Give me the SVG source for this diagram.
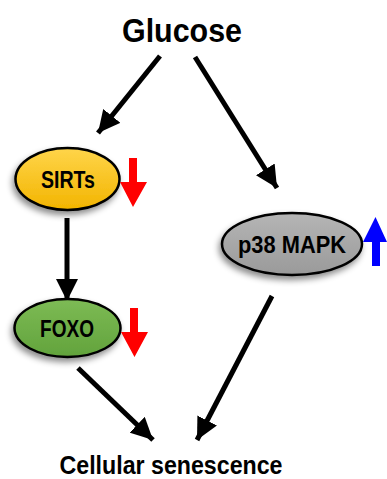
<svg xmlns="http://www.w3.org/2000/svg" width="387" height="479" viewBox="0 0 387 479">
<style>
.t{font-family:"Liberation Sans","Open Sans",sans-serif;font-weight:bold;fill:#000;text-anchor:middle}
.e{stroke:#000;stroke-width:2.5}
.c{stroke:#000;stroke-width:5;fill:none;marker-end:url(#ah)}
</style>
<defs>
<marker id="ah" markerUnits="userSpaceOnUse" markerWidth="22" markerHeight="22" refX="20" refY="10" orient="auto" viewBox="0 0 20 20">
<path d="M0,0 L20,10 L0,20 Z" fill="#000"/>
</marker>
<linearGradient id="gy" x1="0" y1="0" x2="0" y2="1"><stop offset="0" stop-color="#FFD54A"/><stop offset="1" stop-color="#F2B400"/></linearGradient>
<linearGradient id="gg" x1="0" y1="0" x2="0" y2="1"><stop offset="0" stop-color="#7DBB55"/><stop offset="1" stop-color="#62A33C"/></linearGradient>
<linearGradient id="gr" x1="0" y1="0" x2="0" y2="1"><stop offset="0" stop-color="#B5B5B5"/><stop offset="1" stop-color="#9A9A9A"/></linearGradient>
<filter id="sh" x="-20%" y="-20%" width="140%" height="150%"><feDropShadow dx="-2" dy="4" stdDeviation="3" flood-color="#000" flood-opacity="0.45"/></filter>
</defs>
<text class="t" x="182" y="42" font-size="33" textLength="120" lengthAdjust="spacingAndGlyphs">Glucose</text>
<g id="connectors">
<line class="c" x1="160" y1="56" x2="98" y2="133"/>
<line class="c" x1="195" y1="57" x2="277" y2="188"/>
<line class="c" x1="67" y1="218" x2="67" y2="301"/>
<line class="c" x1="78" y1="368" x2="153" y2="440"/>
<line class="c" x1="272" y1="296" x2="197" y2="440"/>
</g>
<g id="sirts">
<ellipse class="e" cx="67.5" cy="179" rx="52" ry="31" fill="url(#gy)" filter="url(#sh)"/>
<text class="t" x="68" y="188" font-size="23" textLength="54" lengthAdjust="spacingAndGlyphs">SIRTs</text>
<path d="M129,158 H137 V182 H147 L133,207 L120,182 H129 Z" fill="#FF0000"/>
</g>
<g id="foxo">
<ellipse class="e" cx="67.5" cy="328" rx="53" ry="29" fill="url(#gg)" filter="url(#sh)"/>
<text class="t" x="67" y="337" font-size="23" textLength="54" lengthAdjust="spacingAndGlyphs">FOXO</text>
<path d="M130,308 H138 V332 H148 L134.5,357 L121,332 H130 Z" fill="#FF0000"/>
</g>
<g id="p38">
<ellipse class="e" cx="292" cy="244" rx="70" ry="31" fill="url(#gr)" filter="url(#sh)"/>
<text class="t" x="292" y="253" font-size="23" textLength="108" lengthAdjust="spacingAndGlyphs">p38 MAPK</text>
<path d="M372,266 H380 V242 H387 L375.5,217 L363,242 H372 Z" fill="#0000FF"/>
</g>
<text class="t" x="171" y="474" font-size="25" textLength="223" lengthAdjust="spacingAndGlyphs">Cellular senescence</text>
</svg>
